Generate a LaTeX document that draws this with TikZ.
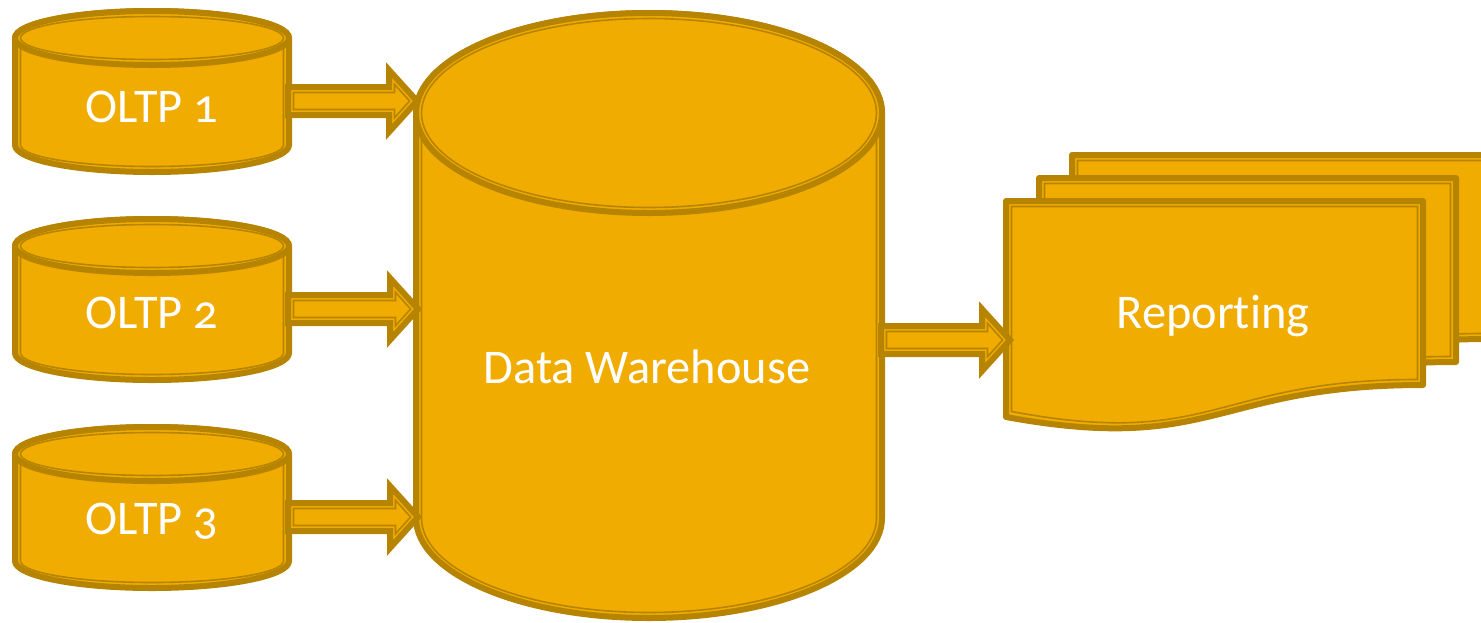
\documentclass[tikz,border=0pt]{standalone}
\usepackage{fontspec}
\setmainfont{Carlito}[Numbers=OldStyle, Ligatures={NoCommon,NoRare,NoDiscretionary}]
\usetikzlibrary{calc}
\definecolor{gold}{RGB}{240,172,0}
\definecolor{goldline}{RGB}{182,132,0}
\tikzset{
  outerline/.style={draw=goldline, line width=4.5pt, fill=gold},
  innerline/.style={draw=goldline, line width=1.2pt},
  lbl/.style={text=white, font=\fontsize{36.3}{40}\selectfont, inner sep=0pt, anchor=base},
}
% cylinder: cx rx ytop ybottom ry
\newcommand\cylshape[5]{%
  \draw[outerline] (#1-#2,#3) -- (#1-#2,#4) arc[start angle=180,end angle=0,x radius=#2,y radius=#5] -- (#1+#2,#3) arc[start angle=0,end angle=-180,x radius=#2,y radius=#5] -- cycle;
  \draw[innerline] (#1-#2+5.5,#3) -- (#1-#2+5.5,#4) arc[start angle=180,end angle=0,x radius=#2-5.5,y radius=#5-5.5] -- (#1+#2-5.5,#3);
  \draw[outerline] (#1,#3) ellipse[x radius=#2,y radius=#5];
  \draw[innerline] (#1,#3) ellipse[x radius=#2-5.5,y radius=#5-5.5];
}
% document: xleft ytop width
\newcommand\docshape[3]{%
  \draw[outerline, line join=round] (#1,#2) -- (#1+#3,#2) -- (#1+#3,#2+184) .. controls (#1+#3/2,#2+184) and (#1+#3/2,#2+254) .. (#1,#2+216) -- cycle;
  \draw[innerline] (#1+5.5,#2+5.5) -- (#1+#3-5.5,#2+5.5) -- (#1+#3-5.5,#2+178.5) .. controls (#1+#3/2,#2+178.5) and (#1+#3/2,#2+248.5) .. (#1+5.5,#2+210.5) -- cycle;
}
% block arrow from named start to named tip
\newcommand\blockarrow[2]{%
  \path[outerline, line join=miter] let \p1=(#1), \p2=(#2) in
    (\x1,\y1+10.5pt) -- (\x2-21pt,\y1+10.5pt) -- (\x2-21pt,\y1+23.25pt) -- (\x2,\y1)
    -- (\x2-21pt,\y1-23.25pt) -- (\x2-21pt,\y1-10.5pt) -- (\x1,\y1-10.5pt) -- cycle;
  \path[innerline] let \p1=(#1), \p2=(#2) in
    (\x1+4.125pt,\y1+6.375pt) -- (\x2-16.875pt,\y1+6.375pt) -- (\x2-16.875pt,\y1+12.525pt) -- (\x2-5.56pt,\y1)
    -- (\x2-16.875pt,\y1-12.525pt) -- (\x2-16.875pt,\y1-6.375pt) -- (\x1+4.125pt,\y1-6.375pt) -- cycle;
}
\begin{document}
\begin{tikzpicture}[x=0.75pt,y=-0.75pt]
  \useasboundingbox (0,0) rectangle (1481,622);
  \clip (0,0) rectangle (1481,622);
  % sources
  \cylshape{152}{137}{38}{145}{27}
  \cylshape{152}{137}{246}{353}{27}
  \cylshape{152}{137}{454}{561}{27}
  % warehouse
  \cylshape{649}{233}{113}{518}{100}
  % reports
  \docshape{1072}{155}{417}
  \docshape{1039}{178}{417}
  \docshape{1006}{201}{417}
  % labels
  \node[lbl] (t1) at (152,122) {OLTP 1};
  \node[lbl] (t2) at (152,328) {OLTP 2};
  \node[lbl] (t3) at (152,534) {OLTP 3};
  \node[lbl] (dw) at (647,383) {Data Warehouse};
  \node[lbl] (rep) at (1213,328) {Reporting};
  % connectors
  \coordinate (a1s) at (288,101); \coordinate (a1e) at (417,101);
  \coordinate (a2s) at (288,309); \coordinate (a2e) at (418,309);
  \coordinate (a3s) at (288,517); \coordinate (a3e) at (418,517);
  \coordinate (a4s) at (881,340); \coordinate (a4e) at (1010,340);
  \blockarrow{a1s}{a1e}
  \blockarrow{a2s}{a2e}
  \blockarrow{a3s}{a3e}
  \blockarrow{a4s}{a4e}
\end{tikzpicture}
\end{document}
